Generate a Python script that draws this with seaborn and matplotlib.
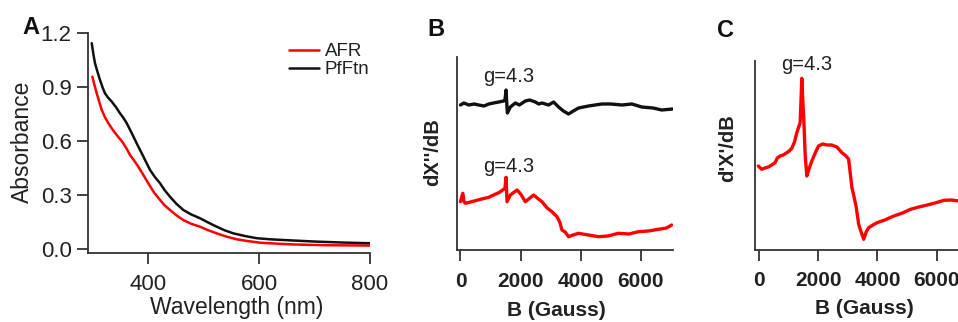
import numpy as np
import pandas as pd
import matplotlib
matplotlib.use("Agg")
import matplotlib.pyplot as plt
import seaborn as sns

# ---------------- data ----------------
# Panel A: UV-vis absorbance
afr_wl = [299.7, 303.5, 307.6, 312.0, 316.6, 322.0, 328.5, 336.0, 343.6, 349.5, 355.5,
          361.5, 367.6, 375.0, 382.5, 391.0, 400.5, 410.0, 421.6, 430.0, 439.6, 450.0,
          463.6, 478.0, 493.7, 508.0, 523.8, 540.0, 559.8, 580.0, 601.8, 630.0, 655.9,
          690.0, 722.0, 760.0, 800.0]
afr_abs = [0.959, 0.912, 0.866, 0.820, 0.774, 0.735, 0.700, 0.665, 0.634, 0.612, 0.588,
           0.558, 0.523, 0.492, 0.458, 0.415, 0.366, 0.318, 0.273, 0.243, 0.217, 0.190,
           0.161, 0.140, 0.124, 0.105, 0.087, 0.070, 0.054, 0.044, 0.035, 0.030, 0.026,
           0.023, 0.021, 0.020, 0.019]
pf_wl = [298.6, 301.5, 304.5, 309.0, 313.5, 318.0, 322.5, 328.0, 334.6, 342.0, 349.5,
         355.5, 361.6, 369.0, 376.6, 382.5, 388.6, 396.0, 403.6, 412.0, 421.6, 430.0,
         439.6, 451.0, 463.6, 478.0, 493.7, 508.0, 523.8, 538.0, 553.8, 575.0, 595.9,
         620.0, 643.8, 670.0, 703.9, 750.0, 800.0]
pf_abs = [1.145, 1.085, 1.033, 0.985, 0.940, 0.900, 0.866, 0.842, 0.820, 0.790, 0.755,
          0.730, 0.700, 0.655, 0.607, 0.570, 0.533, 0.487, 0.440, 0.402, 0.366, 0.327,
          0.291, 0.252, 0.217, 0.192, 0.171, 0.148, 0.124, 0.104, 0.087, 0.072, 0.060,
          0.054, 0.050, 0.046, 0.041, 0.036, 0.032]

# Panel B: EPR, dX''/dB (arbitrary units)
b_black_field = [0, 110, 276, 450, 608, 780, 940, 1100, 1271, 1437, 1480, 1515, 1540,
                 1559, 1658, 1824, 1957, 2156, 2300, 2488, 2600, 2709, 2930, 3095,
                 3261, 3420, 3593, 3750, 3925, 4255, 4698, 5000, 5362, 5700, 6025,
                 6400, 6690, 7050]
b_black_sig = [145, 147, 145, 146, 145, 144, 146, 147, 148, 149, 150, 160, 146,
               137, 143, 147, 145, 149, 150, 148, 146, 147, 145, 148,
               143, 139, 136, 139, 142, 144, 146, 146, 145, 146, 143,
               142, 140, 141]
b_red_field = [0, 77, 120, 166, 330, 497, 700, 940, 1100, 1271, 1437, 1480, 1515,
               1548, 1658, 1880, 2000, 2156, 2432, 2550, 2709, 2880, 3041, 3207,
               3300, 3373, 3480, 3593, 3750, 3925, 4250, 4587, 4900, 5251, 5600,
               5914, 6250, 6578, 6850, 7020]
b_red_sig = [48.3, 56.7, 48, 46.7, 48, 49.3, 51, 52.7, 55, 57.3, 60.7, 62, 72.7,
             48.3, 55, 60, 56, 48.3, 55, 52, 48.3, 42, 38.3, 33.3,
             28, 20, 18, 13.3, 15, 16.7, 15, 13.3, 14, 16.7, 16,
             18.3, 19, 20.7, 22, 25]

# Panel C: EPR, d'X'/dB (arbitrary units)
c_field = [-23, 90, 200, 316, 430, 542, 620, 712, 820, 938, 1020, 1107, 1200, 1277,
           1390, 1420, 1446, 1480, 1525, 1560, 1616, 1700, 1785, 1900, 2011, 2150,
           2294, 2450, 2633, 2720, 2803, 2900, 2972, 3028, 3090, 3141, 3220, 3288,
           3367, 3450, 3537, 3620, 3706, 3850, 3989, 4250, 4554, 4850, 5119, 5400,
           5684, 5950, 6249, 6500, 6750]
c_sig = [84, 80.7, 82, 83, 85, 87.3, 92, 94, 95, 97.3, 99, 101.7, 108, 117.3,
         127.3, 150, 171.7, 150, 122.3, 95, 74, 82, 89, 97, 104, 106,
         105, 105, 103, 100, 97.3, 95, 93, 90.7, 75, 62.3, 52, 42.3,
         25.7, 18, 10.7, 18, 22.3, 25, 27.3, 30, 34, 37, 40.7, 43,
         45, 47, 49.7, 50, 49]

field_ticks = [0, 2000, 4000, 6000]
wl_ticks = [400, 600, 800]
abs_ticks = [0.0, 0.3, 0.6, 0.9, 1.2]

RED = "#ff0000"
BLACK = "#111111"
TXT = "#222222"

sns.set_theme(style="ticks")
plt.rcParams["font.family"] = ["Liberation Sans", "DejaVu Sans"]
plt.rcParams["axes.edgecolor"] = "#333333"
plt.rcParams["axes.linewidth"] = 1.3
plt.rcParams["xtick.color"] = "#333333"
plt.rcParams["ytick.color"] = "#333333"
plt.rcParams["text.color"] = TXT

W, H = 958, 322
fig = plt.figure(figsize=(W / 100, H / 100), dpi=100)


def box(left, top, right, bottom):
    return [left / W, 1 - bottom / H, (right - left) / W, (bottom - top) / H]


# ---------------- Panel A ----------------
axA = fig.add_axes(box(88.3, 33.3, 370, 252.7))
dfA = pd.concat([
    pd.DataFrame({"wl": afr_wl, "A": afr_abs, "sample": "AFR"}),
    pd.DataFrame({"wl": pf_wl, "A": pf_abs, "sample": "PfFtn"}),
])
sns.lineplot(data=dfA, x="wl", y="A", hue="sample", sort=False,
             palette={"AFR": RED, "PfFtn": BLACK}, linewidth=1.8, ax=axA)
axA.set_xlim(292.4, 800)
axA.set_ylim(-0.0206, 1.2)
axA.set_xticks(wl_ticks)
axA.set_yticks(abs_ticks)
axA.set_yticklabels([f"{v:.1f}" for v in abs_ticks])
axA.tick_params(direction="out", length=8, width=1.3, labelsize=16, pad=4,
                labelcolor=TXT)
axA.tick_params(axis="x", pad=7)
sns.despine(ax=axA)
axA.set_xlabel("Wavelength (nm)", fontsize=16.5, color=TXT)
axA.set_ylabel("Absorbance", fontsize=16.5, color=TXT)
axA.xaxis.label.set_va("center")
axA.yaxis.label.set_va("center")
axA.xaxis.set_label_coords(0.527, -0.252)
axA.yaxis.set_label_coords(-0.235, 0.506)
leg = axA.legend(loc="upper left", bbox_to_anchor=(289 / W, 1 - 43 / H),
                 bbox_transform=fig.transFigure, frameon=False, fontsize=13.5,
                 handlelength=1.6, handletextpad=0.3, labelspacing=0.05,
                 borderpad=0, borderaxespad=0)
for t in leg.get_texts():
    t.set_color(TXT)
for l in leg.get_lines():
    l.set_linewidth(1.8)

# ---------------- Panel B ----------------
axB = fig.add_axes(box(457, 57, 673, 250))
dfB = pd.concat([
    pd.DataFrame({"B": b_black_field, "s": b_black_sig, "trace": "PfFtn"}),
    pd.DataFrame({"B": b_red_field, "s": b_red_sig, "trace": "AFR"}),
])
sns.lineplot(data=dfB, x="B", y="s", hue="trace", sort=False,
             palette={"AFR": RED, "PfFtn": BLACK}, linewidth=2.4, legend=False,
             ax=axB)
axB.set_xlim(-116, 7065)
axB.set_ylim(0, 193)
axB.set_xticks(field_ticks)
axB.set_yticks([])
axB.tick_params(axis="x", direction="out", length=8, width=1.3, labelsize=15,
                pad=8, labelcolor=TXT)
for lab in axB.get_xticklabels():
    lab.set_fontweight("bold")
sns.despine(ax=axB)
axB.set_xlabel("B (Gauss)", fontsize=15, fontweight="bold", color=TXT)
axB.set_ylabel("dX''/dB", fontsize=14.5, fontweight="bold", color=TXT)
axB.xaxis.label.set_va("center")
axB.yaxis.label.set_va("center")
axB.xaxis.set_label_coords((556.7 - 457) / 216, (250 - 310) / 193)
axB.yaxis.set_label_coords((433 - 457) / 216, (250 - 152) / 193)
axB.text(750, 168, "g=4.3", fontsize=14.5, color=TXT, ha="left", va="baseline")
axB.text(750, 78, "g=4.3", fontsize=14.5, color=TXT, ha="left", va="baseline")

# ---------------- Panel C ----------------
axC = fig.add_axes(box(755, 61, 975, 250))
dfC = pd.DataFrame({"B": c_field, "s": c_sig})
sns.lineplot(data=dfC, x="B", y="s", sort=False, color=RED, linewidth=2.4, ax=axC)
axC.set_xlim(-135, (975 - 759) / 29.6 * 1000)
axC.set_ylim(0, 189)
axC.set_xticks(field_ticks)
axC.set_yticks([])
axC.tick_params(axis="x", direction="out", length=8, width=1.3, labelsize=15,
                pad=7, labelcolor=TXT)
for lab in axC.get_xticklabels():
    lab.set_fontweight("bold")
sns.despine(ax=axC)
axC.set_xlabel("B (Gauss)", fontsize=15, fontweight="bold", color=TXT)
axC.set_ylabel("d'X'/dB", fontsize=14.5, fontweight="bold", color=TXT)
axC.xaxis.label.set_va("center")
axC.yaxis.label.set_va("center")
axC.xaxis.set_label_coords((864 - 755) / 220, (250 - 309) / 189)
axC.yaxis.set_label_coords((728 - 755) / 220, (250 - 148) / 189)
axC.text(743, 180, "g=4.3", fontsize=14.5, color=TXT, ha="left", va="baseline")

# ---------------- panel letters ----------------
fig.text(22 / W, 1 - 33.5 / H, "A", fontsize=17, fontweight="bold", color="#111111")
fig.text(427 / W, 1 - 35.7 / H, "B", fontsize=17, fontweight="bold", color="#111111")
fig.text(717 / W, 1 - 37 / H, "C", fontsize=17, fontweight="bold", color="#111111")

fig.savefig("out.png", dpi=100)
